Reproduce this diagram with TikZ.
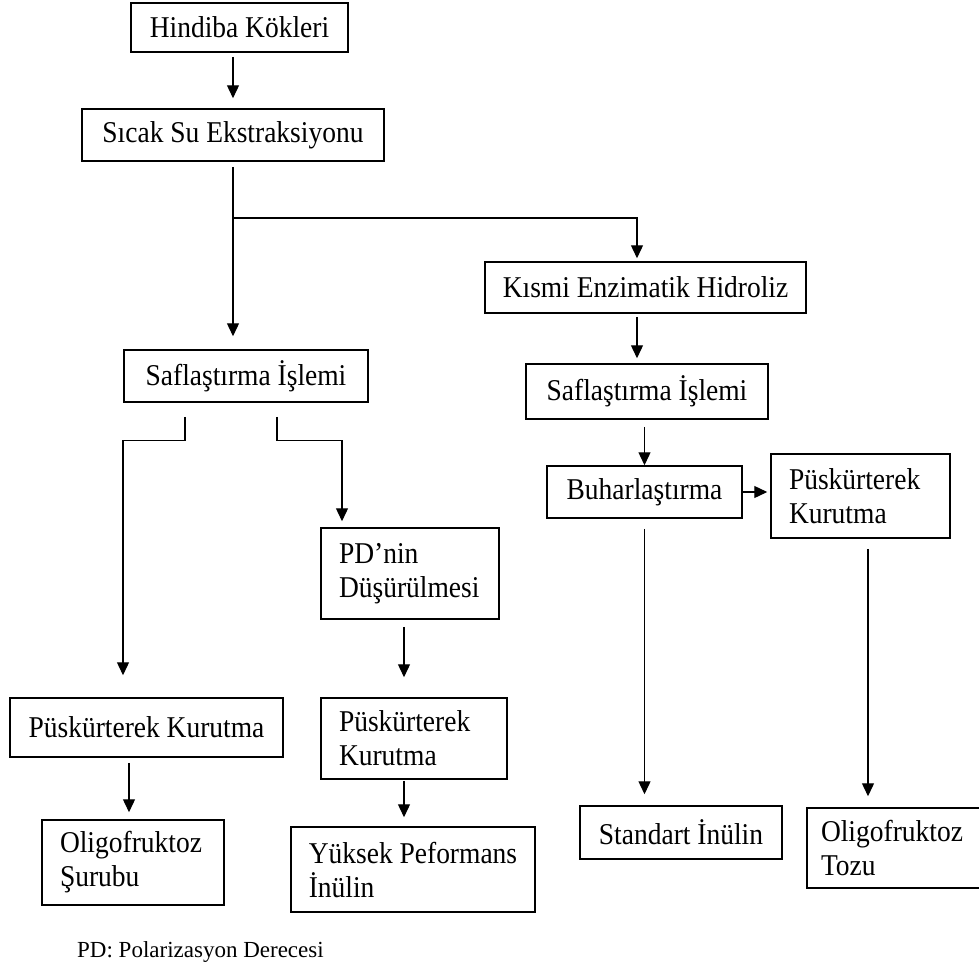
\documentclass[tikz,border=0pt]{standalone}
\usepackage{fontspec}
\setmainfont{Liberation Serif}
\newfontfamily\boxfont[FakeStretch=0.91]{Liberation Serif}
\usetikzlibrary{arrows.meta}
\begin{document}
\begin{tikzpicture}[x=1pt,y=-1pt,
  box/.style={draw, line width=1.5pt, font=\boxfont\fontsize{30.2}{34}\selectfont, inner sep=0pt, anchor=center},
  mbox/.style={box, align=left, text width=#1},
  arr/.style={line width=1.3pt, -{Triangle[width=12pt,length=13pt]}}]
\useasboundingbox (0,0) rectangle (979,967);

\node[box, minimum width=217pt, minimum height=49pt] (n1) at (239.5,27.5) {Hindiba Kökleri};
\node[box, minimum width=302pt, minimum height=52pt] (n2) at (233,135) {Sıcak Su Ekstraksiyonu};
\node[box, minimum width=244pt, minimum height=52pt] (n3) at (246,376) {Saflaştırma İşlemi};
\node[box, minimum width=321pt, minimum height=51pt] (n4) at (645.5,287.5) {Kısmi Enzimatik Hidroliz};
\node[box, minimum width=242pt, minimum height=55pt] (n5) at (647,391.5) {Saflaştırma İşlemi};
\node[box, minimum width=195pt, minimum height=52pt] (n6) at (644.5,492) {Buharlaştırma};
\node[mbox=143pt, minimum width=179pt, minimum height=84pt] (n7) at (860.5,496) {Püskürterek\\Kurutma};
\node[box, minimum width=202pt, minimum height=53pt] (n8) at (681,832.5) {Standart İnülin};
\node[mbox=145pt, minimum width=173pt, minimum height=80pt] (n9) at (893.5,848) {Oligofruktoz\\Tozu};
\node[box, minimum width=273pt, minimum height=59pt] (n10) at (146.5,727.5) {Püskürterek Kurutma};
\node[mbox=142pt, minimum width=178pt, minimum height=91pt] (n11) at (410,573.5) {PD’nin\\Düşürülmesi};
\node[mbox=150pt, minimum width=186pt, minimum height=81pt] (n12) at (414,738.5) {Püskürterek\\Kurutma};
\node[mbox=146pt, minimum width=182pt, minimum height=85pt] (n13) at (133,862.5) {Oligofruktoz\\Şurubu};
\node[box, align=left, minimum width=244pt, minimum height=85pt] (n14) at (413,869.5) {Yüksek Peformans\\İnülin};
\node[anchor=base west, inner sep=0pt, font=\fontsize{23}{27}\selectfont] (fn) at (77,957) {PD: Polarizasyon Derecesi};

\coordinate (br) at (233,218);

\draw[arr, shorten <=4pt, shorten >=10pt] (n1.south -| n2.north) -- (n2.north);
\draw[arr, shorten <=5pt, shorten >=13pt] (n2.south) -- (n2.south |- n3.north);
\draw[arr, shorten >=3pt] (br) -| ([xshift=-8.5pt]n4.north);
\draw[arr, shorten <=3pt, shorten >=5pt] ([xshift=-8.5pt]n4.south) -- ([xshift=-8.5pt]n4.south |- n5.north);
\draw[arr, shorten <=7pt] (n6.north |- n5.south) -- (n6.north);
\draw[arr, shorten >=3pt] (n6.east) -- (n6.east -| n7.west);
\draw[arr, shorten <=10pt, shorten >=11pt] (n6.south) -- (n6.south |- n8.north);
\draw[arr, shorten <=10pt, shorten >=11pt] ([xshift=7.5pt]n7.south) -- ([xshift=7.5pt]n7.south |- n9.north);
\draw[arr, shorten <=14pt, shorten >=22pt] ([xshift=-61pt]n3.south) -- ++(0,38) -| ([xshift=-23.5pt]n10.north);
\draw[arr, shorten <=14pt, shorten >=6pt] ([xshift=31pt]n3.south) -- ++(0,38) -| ([xshift=-68pt]n11.north);
\draw[arr, shorten <=7pt, shorten >=20pt] ([xshift=-6pt]n11.south) -- ([xshift=-6pt]n11.south |- n12.north);
\draw[arr, shorten <=5pt, shorten >=7pt] ([xshift=-17.5pt]n10.south) -- ([xshift=-4pt]n13.north);
\draw[arr, shorten <=1pt, shorten >=9pt] ([xshift=-10pt]n12.south) -- ([xshift=-9pt]n14.north);
\end{tikzpicture}
\end{document}
